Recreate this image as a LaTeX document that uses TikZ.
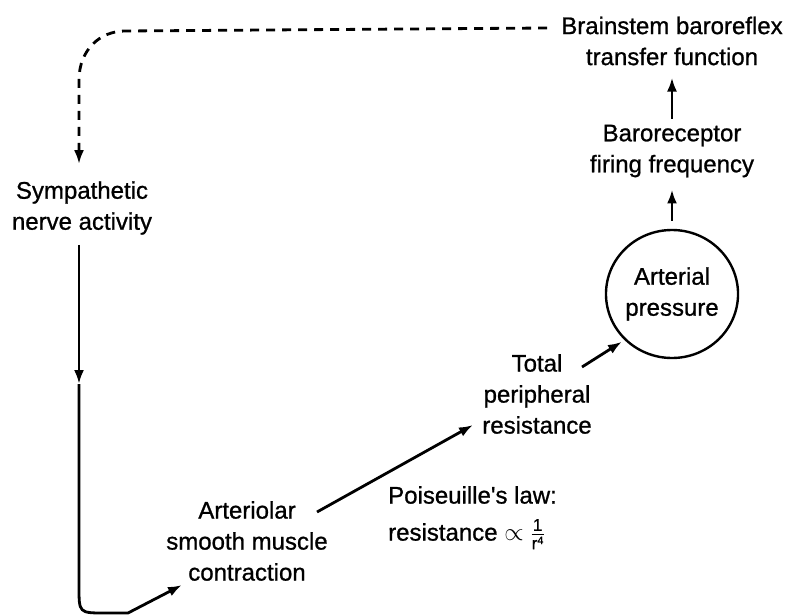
\documentclass[tikz,border=0pt]{standalone}
\usepackage{fontspec}
\setmainfont{Liberation Sans}
\newfontfamily\lblfont{Liberation Sans}[FakeBold=0.9]
\usetikzlibrary{arrows.meta,shapes.geometric}
\begin{document}
\begin{tikzpicture}[x=1pt,y=-1pt,
  lbl/.style={align=center,font=\lblfont\fontsize{24}{31}\selectfont,inner sep=0pt},
  link/.style={line width=2.8pt,-{Latex[length=14pt,width=10pt]}},
  fb/.style={line width=2.8pt,dash pattern=on 9pt off 7pt,-{Latex[length=14pt,width=10pt]}}]
\useasboundingbox (0,0) rectangle (791,615);

% labels of the reflex loop
\node[lbl] (brain) at (672,41) {Brainstem baroreflex\\transfer function};
\node[lbl] (baro)  at (672,151) {Baroreceptor\\firing frequency};
\node[lbl,draw,ellipse,line width=2.4pt,minimum width=115pt,minimum height=128pt] (ap) at (672,294) {Arterial\\pressure};
\node[lbl] (tpr)   at (537,394) {Total\\peripheral\\resistance};
\node[lbl] (arts)  at (247,541) {Arteriolar\\smooth muscle\\contraction};
\node[lbl] (symp)  at (82,208) {Sympathetic\\nerve activity};
\node[lbl,align=left,anchor=north west] (pois) at (388,486)
  {Poiseuille's law:\\[6pt]resistance $\propto\frac{\hbox{\lblfont\fontsize{17}{17}\selectfont 1}}{\hbox{\lblfont\fontsize{17}{17}\selectfont r\raisebox{5pt}{\fontsize{11}{11}\selectfont 4}}}$};

% afferent limb
\draw[link,shorten <=8pt,shorten >=12pt] (ap.north) -- (baro.south);
\draw[link,shorten <=6pt,shorten >=12pt] (baro.north) -- (brain.south);

% efferent feedback (dashed)
\draw[fb] ([shift={(-125,-13)}]brain.center) -- (125,31) .. controls (100,31) and (79,50) .. (79,80)
  -- ([shift={(-3,-17)}]symp.north);

% sympathetic drive down to the arterioles
\coordinate (mid) at (79,384);
\draw[link] ([shift={(-3,10)}]symp.south) -- (mid);
\draw[link] (mid) -- (79,587) .. controls (79,613) .. (105,613) -- (128,613)
  -- ([shift={(-65,44)}]arts.center);

% arterioles -> resistance -> pressure
\draw[link] ([shift={(70,-29)}]arts.center) -- ([shift={(-64,31)}]tpr.center);
\draw[link,shorten >=3pt] ([shift={(45,-27)}]tpr.center) -- (ap.south west);
\end{tikzpicture}
\end{document}
